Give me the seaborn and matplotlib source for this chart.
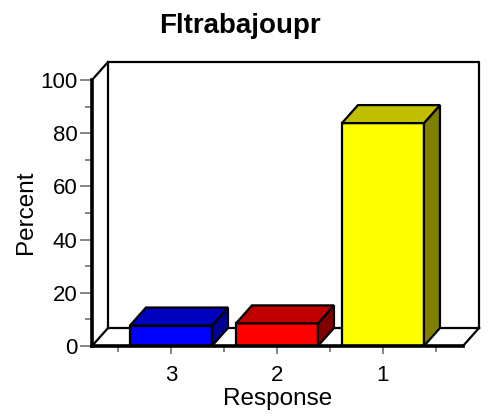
import matplotlib
matplotlib.use("Agg")
import matplotlib.pyplot as plt
import seaborn as sns
import pandas as pd
from matplotlib.ticker import MultipleLocator, FixedLocator
from matplotlib.patches import Polygon

# ---- data ----
categories = ["3", "2", "1"]
percents = [7.7, 8.5, 83.8]
front_colors = ["#0000FF", "#FF0000", "#FFFF00"]
top_colors = ["#0000C0", "#C00000", "#C0C000"]
side_colors = ["#000090", "#800000", "#808000"]
title = "Fltrabajoupr"
xlabel = "Response"
ylabel = "Percent"

sns.set_theme(style="white")
plt.rcParams["font.family"] = ["Liberation Sans", "DejaVu Sans"]
plt.rcParams["text.color"] = "black"

W, H = 488, 417
fig = plt.figure(figsize=(W / 100, H / 100), dpi=100)
ax = fig.add_axes([92 / W, (H - 346) / H, 371 / W, 266 / H])

df = pd.DataFrame({"Response": categories, "Percent": percents})
bar_w = 82 / 106
sns.barplot(data=df, x="Response", y="Percent", hue="Response",
            palette=front_colors, order=categories, hue_order=categories,
            width=bar_w, edgecolor="black", linewidth=1.6, legend=False,
            saturation=1, ax=ax, zorder=3)

x0, x1 = -0.745, 2.755
ax.set_xlim(x0, x1)
ax.set_ylim(0, 100)
dx = 16 / 106
dy = 18 / 2.66

lw = 1.6
kw = dict(color="black", lw=lw, clip_on=False, zorder=1, solid_capstyle="projecting")
# back wall and floor
ax.plot([x0 + dx, x0 + dx, x1 + dx, x1 + dx], [dy, 100 + dy, 100 + dy, dy], **kw)
ax.plot([x0 + dx, x1 + dx], [dy, dy], **kw)
ax.plot([x0, x0 + dx], [100, 100 + dy], **kw)
ax.plot([x0, x0 + dx], [0, dy], **kw)
ax.plot([x1, x1 + dx], [0, dy], **kw)

# 3D tops and sides of the bars
for i, p in enumerate(ax.patches[:len(categories)]):
    xl = p.get_x()
    xr = xl + p.get_width()
    v = p.get_height()
    top = Polygon([(xl, v), (xl + dx, v + dy), (xr + dx, v + dy), (xr, v)],
                  closed=True, facecolor=top_colors[i], edgecolor="black",
                  lw=lw, clip_on=False, zorder=3, joinstyle="miter")
    side = Polygon([(xr, 0), (xr, v), (xr + dx, v + dy), (xr + dx, dy)],
                   closed=True, facecolor=side_colors[i], edgecolor="black",
                   lw=lw, clip_on=False, zorder=3, joinstyle="miter")
    ax.add_patch(side)
    ax.add_patch(top)

# spines
for s in ["top", "right"]:
    ax.spines[s].set_visible(False)
for s in ["left", "bottom"]:
    ax.spines[s].set_linewidth(2.6)
    ax.spines[s].set_color("black")
    ax.spines[s].set_zorder(5)

ax.set_xlabel("")
ax.set_ylabel("")
ax.yaxis.set_major_locator(MultipleLocator(20))
ax.yaxis.set_minor_locator(MultipleLocator(10))
ax.xaxis.set_minor_locator(FixedLocator([-0.5, 0.5, 1.5, 2.5]))
ax.tick_params(axis="y", which="major", left=True, length=9, width=1.2,
               color="#707070", labelsize=16, pad=1.5, labelcolor="black")
ax.tick_params(axis="y", which="minor", left=True, length=5, width=1.2,
               color="#707070")
ax.tick_params(axis="x", which="major", bottom=True, length=6, width=1.2,
               color="#707070", labelsize=16, pad=8, labelcolor="black")
ax.tick_params(axis="x", which="minor", bottom=True, length=4, width=1.2,
               color="#707070")
ax.set_facecolor("white")
ax.patch.set_alpha(0)

fig.text(240 / W, 1 - 33 / H, title, ha="center", va="baseline",
         fontsize=20, fontweight="bold", color="black")
fig.text(26 / W, 1 - 212 / H, ylabel, ha="center", va="center",
         rotation=90, fontsize=17.5, color="black")
fig.text(278 / W, 1 - 405 / H, xlabel, ha="center", va="baseline",
         fontsize=17.5, color="black")

fig.savefig("out.png", dpi=100, facecolor="white")
